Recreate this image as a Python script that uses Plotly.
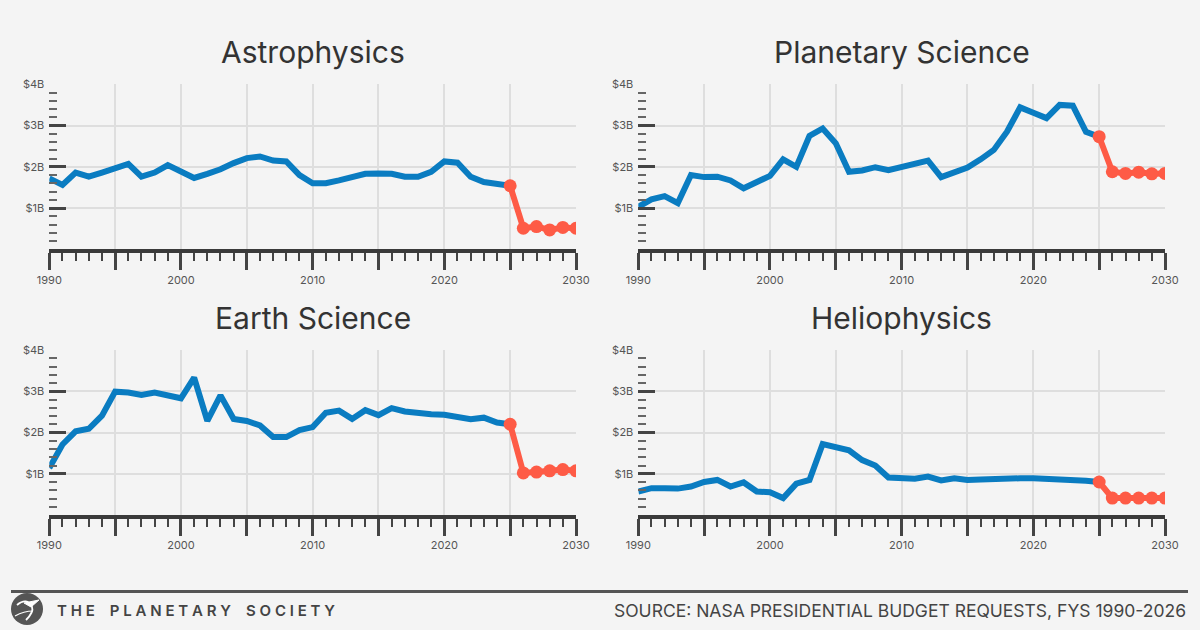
import plotly.graph_objects as go

years = list(range(1990, 2026))
proj_years = list(range(2025, 2031))

titles = ["Astrophysics", "Planetary Science", "Earth Science", "Heliophysics"]

astro_hist = [1.72, 1.56, 1.86, 1.76, 1.86, 1.96, 2.07, 1.76, 1.86, 2.04,
              1.88, 1.73, 1.83, 1.94, 2.09, 2.21, 2.25, 2.15, 2.13, 1.80,
              1.60, 1.60, 1.67, 1.74, 1.83, 1.84, 1.83, 1.76, 1.76, 1.88,
              2.13, 2.10, 1.76, 1.63, 1.60, 1.54]
astro_proj = [1.54, 0.51, 0.55, 0.47, 0.53, 0.51]

planet_hist = [1.03, 1.21, 1.29, 1.12, 1.80, 1.75, 1.76, 1.67, 1.48, 1.62,
               1.78, 2.18, 2.00, 2.75, 2.93, 2.57, 1.88, 1.91, 1.99, 1.92,
               2.00, 2.09, 2.15, 1.75, 1.88, 1.98, 2.18, 2.41, 2.85, 3.44,
               3.31, 3.18, 3.50, 3.48, 2.85, 2.73]
planet_proj = [2.73, 1.88, 1.84, 1.87, 1.83, 1.84]

earth_hist = [1.14, 1.71, 2.03, 2.09, 2.41, 2.99, 2.97, 2.91, 2.97, 2.89,
              2.83, 3.33, 2.28, 2.90, 2.33, 2.28, 2.17, 1.89, 1.89, 2.06,
              2.13, 2.48, 2.53, 2.33, 2.54, 2.42, 2.59, 2.51, 2.47, 2.44,
              2.43, 2.37, 2.32, 2.36, 2.24, 2.20]
earth_proj = [2.20, 1.02, 1.04, 1.07, 1.10, 1.07]

helio_hist = [0.57, 0.65, 0.65, 0.64, 0.69, 0.80, 0.85, 0.69, 0.79, 0.57,
              0.55, 0.41, 0.76, 0.85, 1.72, 1.64, 1.57, 1.33, 1.20, 0.91,
              0.89, 0.88, 0.93, 0.84, 0.89, 0.85, 0.86, 0.88, 0.88, 0.89,
              0.89, 0.88, 0.87, 0.86, 0.83, 0.80]
helio_proj = [0.80, 0.41, 0.41, 0.41, 0.41, 0.41]

x_tickvals = list(range(1990, 2031, 5))
x_ticktext = ["1990", "", "2000", "", "2010", "", "2020", "", "2030"]
y_tickvals = [1, 2, 3, 4]
y_ticktext = ["$1B", "$2B", "$3B", "$4B"]

hist_series = [astro_hist, planet_hist, earth_hist, helio_hist]
proj_series = [astro_proj, planet_proj, earth_proj, helio_proj]

BLUE = "#0a7cc1"
RED = "#fe5b46"
BG = "#f4f4f4"
FONT = "Inter"

W, H = 1200, 630
x_doms = [(49.3 / W, 576 / W), (638.3 / W, 1165 / W)]
y_doms = [(1 - 249.3 / H, 1 - 84.3 / H), (1 - 515 / H, 1 - 350 / H)]

fig = go.Figure()
layout = {}
annotations = []

for i in range(4):
    row, col = divmod(i, 2)
    n = "" if i == 0 else str(i + 1)
    xa, ya = "x" + n, "y" + n
    fig.add_trace(go.Scatter(x=years, y=hist_series[i], mode="lines",
                             line=dict(color=BLUE, width=6),
                             xaxis=xa, yaxis=ya, showlegend=False))
    fig.add_trace(go.Scatter(x=proj_years, y=proj_series[i], mode="lines+markers",
                             line=dict(color=RED, width=6),
                             marker=dict(color=RED, size=13),
                             xaxis=xa, yaxis=ya, showlegend=False))
    layout["xaxis" + n] = dict(
        domain=list(x_doms[col]), anchor=ya, range=[1990, 2030],
        automargin=False,
        tickmode="array", tickvals=x_tickvals, ticktext=x_ticktext,
        ticks="outside", ticklen=17, tickwidth=3, tickcolor="#444",
        showline=True, linewidth=4, linecolor="#3a3a3a",
        showgrid=True, gridcolor="#dedede", gridwidth=2,
        zeroline=False,
        tickfont=dict(family=FONT, size=11, color="#555"),
        minor=dict(dtick=1, tick0=1990, ticks="outside", ticklen=8,
                   tickwidth=2, tickcolor="#444", showgrid=False),
        fixedrange=True,
    )
    layout["yaxis" + n] = dict(
        domain=list(y_doms[row]), anchor=xa, range=[0, 4],
        automargin=False,
        tickmode="array", tickvals=y_tickvals, ticktext=y_ticktext,
        ticks="inside", ticklen=17, tickwidth=3, tickcolor="#444",
        ticklabelstandoff=4,
        showline=False, showgrid=True, gridcolor="#dedede", gridwidth=2,
        zeroline=False,
        tickfont=dict(family=FONT, size=11, color="#555"),
        minor=dict(tickvals=[round(k * 0.2, 1) for k in range(1, 20) if k % 5 != 0],
                   ticks="inside", ticklen=8, tickwidth=2, tickcolor="#666",
                   showgrid=False),
        fixedrange=True,
    )
    cx = (x_doms[col][0] + x_doms[col][1]) / 2
    cy = 1 - 52 / H if row == 0 else 1 - 318 / H
    annotations.append(dict(text=titles[i], x=cx, y=cy, xref="paper", yref="paper",
                            xanchor="center", yanchor="middle", showarrow=False,
                            font=dict(family=FONT, size=30, color="#333")))

nb = "\u00a0"
brand = (nb * 4).join(nb.join(list(w)) for w in ["THE", "PLANETARY", "SOCIETY"])
annotations.append(dict(text=brand, x=55 / W, y=1 - 610 / H, xref="paper", yref="paper",
                        xanchor="left", yanchor="middle", showarrow=False,
                        font=dict(family=FONT, size=15, color="#444", weight=600)))
annotations.append(dict(text="SOURCE: NASA PRESIDENTIAL BUDGET REQUESTS, FYS 1990-2026",
                        x=1188 / W, y=1 - 610 / H, xref="paper", yref="paper",
                        xanchor="right", yanchor="middle", showarrow=False,
                        font=dict(family=FONT, size=17.5, color="#444")))

def px(x, y):
    return f"{x / W:.5f},{1 - y / H:.5f}"

shapes = [
    dict(type="line", xref="paper", yref="paper", x0=11 / W, x1=1188 / W,
         y0=1 - 591.5 / H, y1=1 - 591.5 / H, line=dict(color="#555", width=3)),
    dict(type="circle", xref="paper", yref="paper", x0=11 / W, x1=43 / W,
         y0=1 - 625 / H, y1=1 - 593 / H, fillcolor="#555", line=dict(width=0)),
    dict(type="path", xref="paper", yref="paper",
         path=f"M {px(17, 605)} Q {px(27, 597)} {px(32, 607)} Q {px(34, 612)} {px(26, 620)}",
         line=dict(color="white", width=1.8)),
    dict(type="path", xref="paper", yref="paper",
         path=f"M {px(24, 603)} L {px(39, 600)} L {px(31, 607)} Z",
         fillcolor="white", line=dict(color="white", width=1)),
    dict(type="path", xref="paper", yref="paper",
         path=f"M {px(15, 616)} Q {px(24, 611)} {px(33, 611)}",
         line=dict(color="white", width=1.2)),
]

fig.update_layout(**layout)
fig.update_layout(width=W, height=H, margin=dict(l=0, r=0, t=0, b=0, autoexpand=False),
                  paper_bgcolor=BG, plot_bgcolor=BG,
                  annotations=annotations, shapes=shapes,
                  font=dict(family=FONT))

fig.write_html("out.html", config={"displayModeBar": False})
